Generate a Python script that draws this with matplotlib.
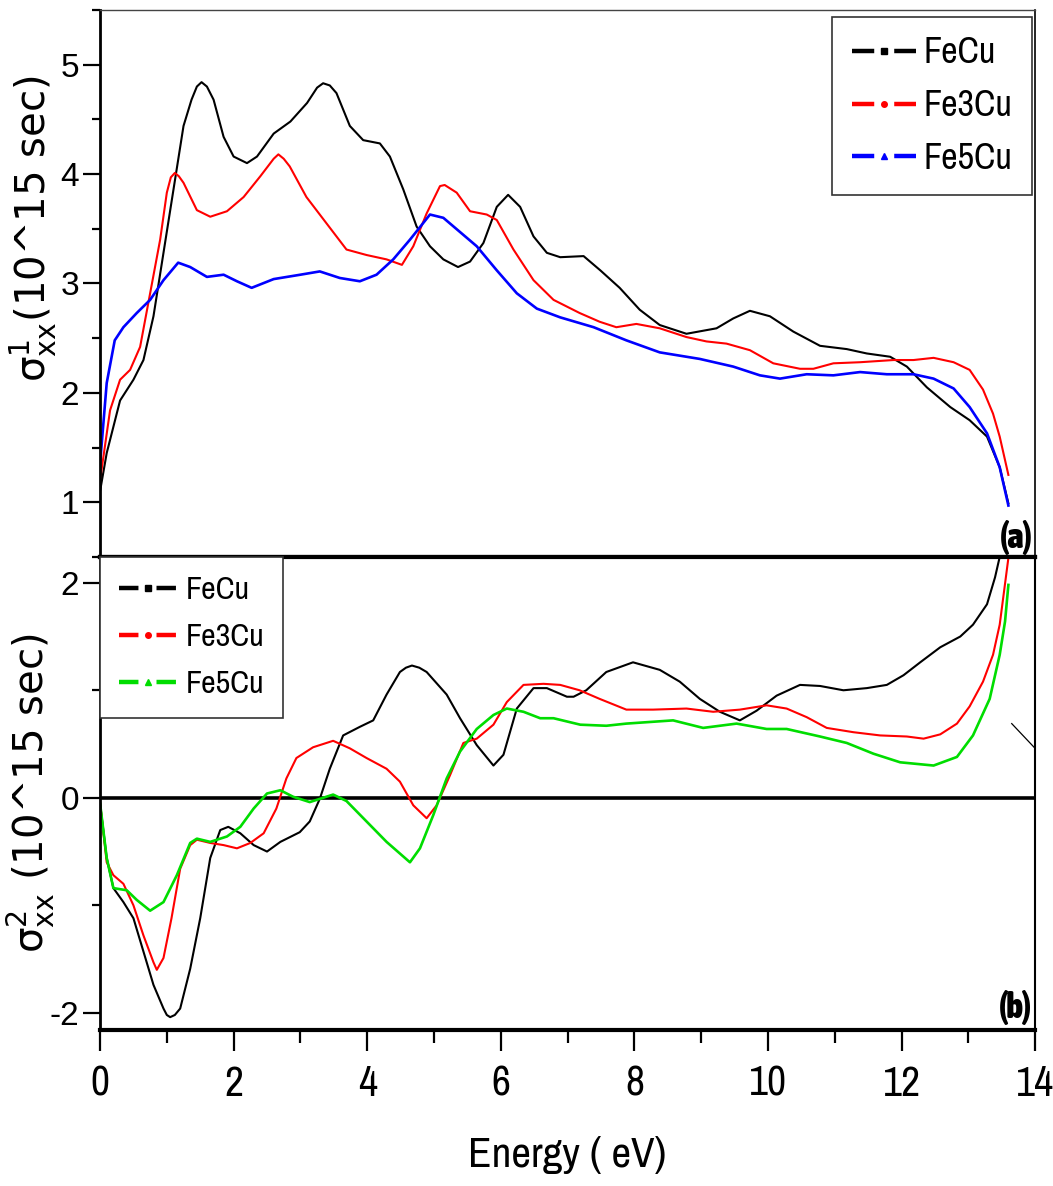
import numpy as np
import matplotlib
matplotlib.use("Agg")
import matplotlib.pyplot as plt
from matplotlib import font_manager as fm
from matplotlib.font_manager import FontProperties
from matplotlib.lines import Line2D
from matplotlib.ticker import MultipleLocator, FixedLocator

plt.rcParams['axes.unicode_minus'] = False
plt.rcParams['lines.scale_dashes'] = False
plt.rcParams['mathtext.fontset'] = 'custom'
plt.rcParams['mathtext.rm'] = 'DejaVu Sans'
plt.rcParams['mathtext.it'] = 'DejaVu Sans'
plt.rcParams['font.family'] = ['Liberation Sans', 'DejaVu Sans']

# ---- (a) real part sigma^1_xx ----
a_fecu_E = [0.0, 0.1, 0.3, 0.5, 0.65, 0.8, 0.95, 1.1, 1.25, 1.37, 1.45, 1.52, 1.6, 1.7, 1.85, 2.0,
            2.2, 2.35, 2.6, 2.85, 3.1, 3.25, 3.34, 3.44, 3.54, 3.74, 3.94, 4.19, 4.34, 4.54, 4.74,
            4.94, 5.14, 5.36, 5.54, 5.74, 5.94, 6.11, 6.29, 6.49, 6.69, 6.89, 7.24, 7.49, 7.78,
            8.08, 8.38, 8.78, 9.23, 9.48, 9.73, 10.03, 10.38, 10.78, 11.18, 11.48, 11.83, 12.08,
            12.38, 12.73, 13.02, 13.28, 13.47, 13.6]
a_fecu_v = [1.1, 1.45, 1.93, 2.12, 2.30, 2.70, 3.28, 3.86, 4.44, 4.68, 4.80, 4.84, 4.80, 4.68, 4.34,
            4.16, 4.10, 4.16, 4.37, 4.48, 4.65, 4.79, 4.83, 4.81, 4.74, 4.44, 4.31, 4.28, 4.16,
            3.86, 3.52, 3.34, 3.22, 3.15, 3.20, 3.37, 3.70, 3.81, 3.70, 3.43, 3.28, 3.24, 3.25,
            3.12, 2.96, 2.76, 2.62, 2.54, 2.59, 2.68, 2.75, 2.70, 2.56, 2.43, 2.40, 2.36, 2.33,
            2.24, 2.05, 1.87, 1.75, 1.60, 1.32, 0.99]

a_fe3cu_E = [0.0, 0.15, 0.3, 0.45, 0.6, 0.75, 0.9, 1.0, 1.06, 1.12, 1.18, 1.25, 1.45, 1.65, 1.9,
             2.15, 2.4, 2.6, 2.67, 2.75, 2.84, 3.09, 3.39, 3.69, 3.99, 4.29, 4.52, 4.69, 4.89,
             5.09, 5.16, 5.34, 5.54, 5.79, 5.94, 6.19, 6.49, 6.79, 7.18, 7.48, 7.73, 8.03, 8.38,
             8.78, 9.08, 9.38, 9.73, 10.08, 10.48, 10.68, 10.98, 11.38, 11.88, 12.18, 12.48,
             12.78, 13.02, 13.22, 13.37, 13.47, 13.6]
a_fe3cu_v = [1.2, 1.84, 2.12, 2.21, 2.42, 2.91, 3.40, 3.83, 3.97, 4.01, 3.98, 3.92, 3.67, 3.61, 3.66,
             3.79, 3.98, 4.14, 4.18, 4.14, 4.07, 3.79, 3.55, 3.31, 3.26, 3.22, 3.17, 3.34, 3.64,
             3.89, 3.90, 3.83, 3.66, 3.63, 3.58, 3.31, 3.03, 2.85, 2.73, 2.65, 2.60, 2.63, 2.59,
             2.51, 2.47, 2.45, 2.39, 2.27, 2.22, 2.22, 2.27, 2.28, 2.30, 2.30, 2.32,
             2.28, 2.21, 2.03, 1.81, 1.60, 1.25]

a_fe5cu_E = [0.0, 0.1, 0.22, 0.35, 0.55, 0.75, 0.95, 1.17, 1.35, 1.6, 1.85, 2.05, 2.27, 2.6, 3.0,
             3.29, 3.59, 3.89, 4.14, 4.39, 4.64, 4.94, 5.14, 5.39, 5.64, 5.94, 6.24, 6.54, 6.89,
             7.39, 7.88, 8.38, 8.98, 9.48, 9.88, 10.18, 10.58, 10.98, 11.38, 11.78, 12.18, 12.48,
             12.78, 13.02, 13.28, 13.47, 13.6]
a_fe5cu_v = [1.35, 2.09, 2.48, 2.60, 2.73, 2.85, 3.03, 3.19, 3.15, 3.06, 3.08, 3.02, 2.96, 3.04, 3.08,
             3.11, 3.05, 3.02, 3.08, 3.22, 3.40, 3.63, 3.60, 3.47, 3.34, 3.12, 2.91, 2.77, 2.69,
             2.60, 2.48, 2.37, 2.31, 2.24, 2.16, 2.13, 2.17, 2.16, 2.19, 2.17, 2.17, 2.13,
             2.04, 1.87, 1.63, 1.32, 0.97]

# ---- (b) imaginary part sigma^2_xx ----
b_fecu_E = [0.0, 0.1, 0.2, 0.35, 0.5, 0.65, 0.8, 0.95, 1.0, 1.05, 1.12, 1.2, 1.35, 1.5, 1.65, 1.8,
            1.92, 2.1, 2.3, 2.5, 2.7, 2.99, 3.14, 3.29, 3.44, 3.64, 3.89, 4.09, 4.29, 4.49, 4.58,
            4.67, 4.78, 4.89, 5.19, 5.39, 5.64, 5.89, 6.04, 6.24, 6.49, 6.69, 6.99, 7.09, 7.28,
            7.58, 7.98, 8.38, 8.68, 8.98, 9.28, 9.58, 9.83, 10.13, 10.48, 10.78, 11.13, 11.48,
            11.78, 12.03, 12.28, 12.58, 12.88, 13.07, 13.28, 13.4, 13.47]
b_fecu_v = [-0.05, -0.56, -0.84, -0.97, -1.12, -1.43, -1.74, -1.96, -2.02, -2.04, -2.02, -1.96, -1.59,
            -1.12, -0.56, -0.30, -0.27, -0.33, -0.44, -0.50, -0.41, -0.32, -0.22, -0.01, 0.27,
            0.58, 0.66, 0.72, 0.96, 1.17, 1.21, 1.23, 1.21, 1.17, 0.96, 0.74, 0.49, 0.30, 0.40,
            0.83, 1.02, 1.02, 0.94, 0.94, 1.00, 1.17, 1.26, 1.19, 1.08, 0.92, 0.80, 0.72, 0.81,
            0.95, 1.05, 1.04, 1.00, 1.02, 1.05, 1.14, 1.26, 1.40, 1.50, 1.61, 1.80, 2.05, 2.24]

b_fe3cu_E = [0.0, 0.1, 0.2, 0.35, 0.5, 0.65, 0.8, 0.85, 0.95, 1.07, 1.2, 1.35, 1.45, 1.65, 1.85,
             2.05, 2.25, 2.45, 2.64, 2.79, 2.94, 3.19, 3.49, 3.74, 3.99, 4.29, 4.49, 4.69, 4.89,
             5.04, 5.24, 5.44, 5.64, 5.89, 6.09, 6.34, 6.64, 6.89, 7.18, 7.48, 7.88, 8.28, 8.78,
             9.18, 9.58, 9.98, 10.28, 10.58, 10.88, 11.28, 11.68, 12.08, 12.33, 12.58, 12.83,
             13.02, 13.22, 13.37, 13.47, 13.6]
b_fe3cu_v = [-0.05, -0.60, -0.72, -0.80, -1.00, -1.28, -1.53, -1.60, -1.49, -1.12, -0.66, -0.44, -0.39,
             -0.42, -0.44, -0.47, -0.42, -0.33, -0.10, 0.18, 0.37, 0.47, 0.53, 0.46, 0.37, 0.27,
             0.15, -0.07, -0.19, -0.07, 0.21, 0.51, 0.55, 0.68, 0.89, 1.05, 1.06, 1.05, 1.00,
             0.92, 0.82, 0.82, 0.83, 0.80, 0.82, 0.86, 0.83, 0.75, 0.65, 0.61, 0.58, 0.57, 0.55,
             0.59, 0.69, 0.85, 1.08, 1.33, 1.61, 2.23]

b_fe5cu_E = [0.0, 0.1, 0.2, 0.4, 0.55, 0.75, 0.95, 1.15, 1.35, 1.45, 1.65, 1.9, 2.1, 2.3, 2.5,
             2.7, 2.89, 3.14, 3.49, 3.69, 3.99, 4.29, 4.64, 4.79, 4.99, 5.19, 5.39, 5.64, 5.89,
             6.09, 6.34, 6.59, 6.79, 7.19, 7.58, 7.88, 8.58, 9.03, 9.53, 9.98, 10.28, 10.78,
             11.18, 11.58, 11.98, 12.48, 12.83, 13.07, 13.32, 13.47, 13.55, 13.6]
b_fe5cu_v = [-0.05, -0.56, -0.84, -0.86, -0.95, -1.05, -0.97, -0.72, -0.42, -0.38, -0.41, -0.36,
             -0.27, -0.10, 0.04, 0.07, 0.01, -0.04, 0.03, -0.03, -0.22, -0.41, -0.60, -0.47,
             -0.16, 0.18, 0.43, 0.64, 0.77, 0.83, 0.80, 0.74, 0.74, 0.68, 0.67, 0.69, 0.72,
             0.65, 0.69, 0.64, 0.64, 0.57, 0.51, 0.41, 0.33, 0.30, 0.38, 0.58, 0.92, 1.33,
             1.64, 1.98]

stray_E = [13.65, 14.0]
stray_v = [0.69, 0.46]

labels = ['FeCu', 'Fe3Cu', 'Fe5Cu']


# pick a condensed face if the system has one (the original text is narrow)
def pick_font(bold=False):
    want = 'bold' if bold else 'normal'
    cands = []
    for f in fm.fontManager.ttflist:
        narrowish = ('Narrow' in f.name or 'Condensed' in f.name
                     or f.stretch in ('condensed', 'semi-condensed', 'extra-condensed'))
        if not narrowish or f.style != 'normal':
            continue
        w = f.weight if isinstance(f.weight, int) else (700 if 'bold' in str(f.weight) else 400)
        if (w >= 600) == bold:
            cands.append(f)
    if cands:
        cands.sort(key=lambda f: (0 if 'Liberation' in f.name else 1, f.name))
        return FontProperties(fname=cands[0].fname), True
    return FontProperties(family=['Liberation Sans', 'DejaVu Sans'], weight=want), False


fp_reg, is_narrow = pick_font(False)
fp_bold, _ = pick_font(True)
shrink = 1.0 if is_narrow else 0.86


def fprop(base, size):
    p = base.copy()
    p.set_size(size * shrink)
    return p


fig = plt.figure(figsize=(10.53, 11.86), dpi=100)
ax1 = fig.add_axes([0.095, 0.5304, 0.888, 0.4612])
ax2 = fig.add_axes([0.095, 0.1315, 0.888, 0.3989])

lw = 1.5
ax1.plot(a_fecu_E, a_fecu_v, color='black', lw=lw)
ax1.plot(a_fe3cu_E, a_fe3cu_v, color='#ff0000', lw=lw)
ax1.plot(a_fe5cu_E, a_fe5cu_v, color='#0000ff', lw=lw + 0.4)

ax2.axhline(0, color='black', lw=2.6)
ax2.plot(b_fecu_E, b_fecu_v, color='black', lw=lw)
ax2.plot(b_fe3cu_E, b_fe3cu_v, color='#ff0000', lw=lw)
ax2.plot(b_fe5cu_E, b_fe5cu_v, color='#00dd00', lw=lw + 0.4)
ax2.plot(stray_E, stray_v, color='black', lw=0.9, clip_on=False)

for ax in (ax1, ax2):
    ax.set_xlim(0, 14)
ax1.set_ylim(0.5, 5.5)
ax2.set_ylim(-2.16, 2.24)

# spines
ax1.spines['top'].set_linewidth(1.0)
ax1.spines['top'].set_color('#444444')
ax1.spines['right'].set_linewidth(1.2)
ax1.spines['bottom'].set_linewidth(3.0)
ax1.spines['left'].set_linewidth(2.0)
ax2.spines['top'].set_linewidth(3.0)
ax2.spines['bottom'].set_linewidth(3.0)
ax2.spines['left'].set_linewidth(2.0)
ax2.spines['right'].set_linewidth(1.5)

# ticks
ax1.tick_params(axis='x', bottom=False, labelbottom=False)
ax1.yaxis.set_major_locator(MultipleLocator(1))
ax1.yaxis.set_minor_locator(MultipleLocator(0.5))
ax2.yaxis.set_major_locator(FixedLocator([-2, 0, 2]))
ax2.yaxis.set_minor_locator(FixedLocator([-1, 1]))
ax2.xaxis.set_major_locator(MultipleLocator(2))
ax2.xaxis.set_minor_locator(MultipleLocator(1))
for ax in (ax1, ax2):
    ax.tick_params(axis='y', which='major', direction='out', length=12, width=1.6,
                   labelsize=24, pad=3)
    ax.tick_params(axis='y', which='minor', direction='out', length=6, width=1.6)
ax2.tick_params(axis='x', which='major', direction='out', length=15, width=1.6, pad=10)
ax2.tick_params(axis='x', which='minor', direction='out', length=9, width=1.6)
for t in ax2.get_xticklabels():
    t.set_fontproperties(fprop(fp_reg, 30))

ax2.set_xlabel('Energy ( eV)', fontproperties=fprop(fp_reg, 31), labelpad=24)
ax1.set_ylabel(r'$\mathregular{\sigma^{1}_{xx}}$(10^15 sec)', family='DejaVu Sans', fontsize=29)
ax1.yaxis.set_label_coords(-0.044, 0.60)
ax2.set_ylabel(r'$\mathregular{\sigma^{2}_{xx}}$ (10^15 sec)', family='DejaVu Sans', fontsize=29)
ax2.yaxis.set_label_coords(-0.046, 0.50)

ax1.text(0.997, 0.003, '(a)', transform=ax1.transAxes, ha='right', va='bottom',
         fontproperties=fprop(fp_bold, 25))
ax2.text(0.997, 0.01, '(b)', transform=ax2.transAxes, ha='right', va='bottom',
         fontproperties=fprop(fp_bold, 25))

# legends (Origin style line + symbol handles)
top_fs = 26 * shrink
bot_fs = 23 * shrink
top_handles = [
    Line2D([], [], color='black', lw=3.2, linestyle=(0, (16, 14.4)), marker='s', markersize=4),
    Line2D([], [], color='#ff0000', lw=3.2, linestyle=(0, (16, 14.4)), marker='o', markersize=4),
    Line2D([], [], color='#0000ff', lw=3.2, linestyle=(0, (16, 14.4)), marker='^', markersize=5),
]
bot_handles = [
    Line2D([], [], color='black', lw=3.2, linestyle=(0, (14, 13)), marker='s', markersize=4),
    Line2D([], [], color='#ff0000', lw=3.2, linestyle=(0, (14, 13)), marker='o', markersize=4),
    Line2D([], [], color='#00dd00', lw=3.2, linestyle=(0, (14, 13)), marker='^', markersize=5),
]
leg1 = ax1.legend(top_handles, labels, loc='upper right', bbox_to_anchor=(0.9968, 0.988),
                  prop=fprop(fp_reg, 26), frameon=True, fancybox=False,
                  edgecolor='#333333', framealpha=1, numpoints=1, handlelength=46.4 / top_fs,
                  handletextpad=0.2, labelspacing=0.55, borderpad=0.55, borderaxespad=0)
leg1.get_frame().set_linewidth(1.2)
leg2 = ax2.legend(bot_handles, labels, loc='upper left', bbox_to_anchor=(0.0, 1.0),
                  prop=fprop(fp_reg, 23), frameon=True, fancybox=False,
                  edgecolor='#333333', framealpha=1, numpoints=1, handlelength=42 / bot_fs,
                  handletextpad=0.25, labelspacing=0.6, borderpad=0.6, borderaxespad=0)
leg2.get_frame().set_linewidth(1.2)

fig.savefig('out.png', dpi=100, facecolor='white')
